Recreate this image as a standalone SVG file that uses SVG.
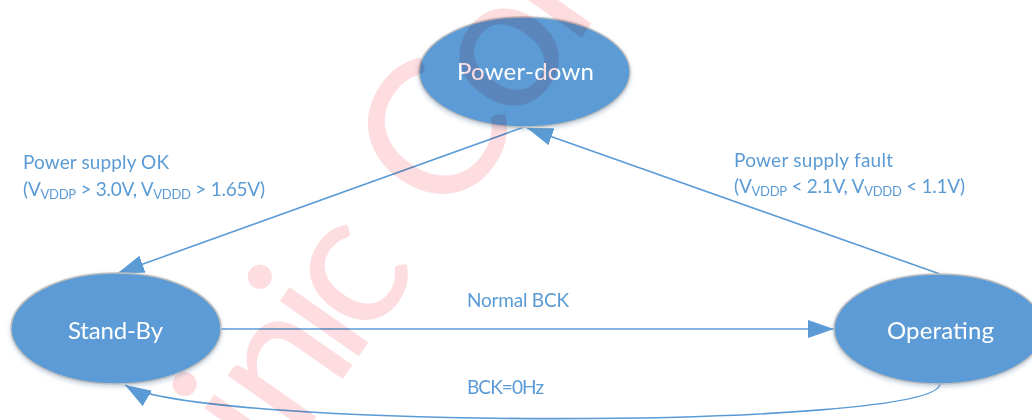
<svg xmlns="http://www.w3.org/2000/svg" width="1032" height="420" viewBox="0 0 1032 420">
<defs>
<style>
.node{fill:#5B9BD5;stroke:#BFBFBF;stroke-width:1.5;filter:url(#sh);}
.nlabel{font-family:Lato,"Open Sans",sans-serif;font-size:24px;fill:#FFFFFF;text-anchor:middle;}
.lbl{font-family:Lato,"Open Sans",sans-serif;font-size:19px;fill:#5B9BD5;}
.sub{font-size:13px;}
.conn{fill:none;stroke:#5B9BD5;stroke-width:1.6;}
.wm{font-family:Lato,"Open Sans",sans-serif;font-size:190px;fill:#FDDDE0;mix-blend-mode:multiply;}
</style>
<filter id="sh" x="-20%" y="-20%" width="140%" height="150%">
<feDropShadow dx="0" dy="2" stdDeviation="2" flood-color="#5B7FA8" flood-opacity="0.35"/>
</filter>
<marker id="arr" markerUnits="userSpaceOnUse" markerWidth="26" markerHeight="18" refX="26" refY="9" orient="auto">
<path d="M0,0 L26,9 L0,18 z" fill="#5B9BD5"/>
</marker>
</defs>
<rect width="1032" height="420" fill="#FFFFFF"/>
<g id="connectors">
<path class="conn" d="M524,127 L118,273" marker-end="url(#arr)"/>
<path class="conn" d="M940,274 L527,128" marker-end="url(#arr)"/>
<path class="conn" d="M221,329 L834,329" marker-end="url(#arr)"/>
<path class="conn" d="M940,384 C935,430 200,430 125,385" marker-end="url(#arr)"/>
</g>
<g id="node-powerdown">
<ellipse class="node" cx="524.5" cy="72" rx="105.5" ry="55"/>
<text class="nlabel" x="525.5" y="80" textLength="137">Power-down</text>
</g>
<g id="node-standby">
<ellipse class="node" cx="116" cy="328.5" rx="105" ry="55.5"/>
<text class="nlabel" x="115.5" y="339" textLength="95">Stand-By</text>
</g>
<g id="node-operating">
<ellipse class="node" cx="939" cy="329" rx="105" ry="55"/>
<text class="nlabel" x="940.5" y="339" textLength="107">Operating</text>
</g>
<g id="labels">
<text class="lbl" x="23" y="169" textLength="146">Power supply OK</text>
<text class="lbl" x="23" y="196" textLength="242">(V<tspan class="sub" dy="3">VDDP</tspan><tspan dy="-3"> &gt; 3.0V, V</tspan><tspan class="sub" dy="3">VDDD</tspan><tspan dy="-3"> &gt; 1.65V)</tspan></text>
<text class="lbl" x="734" y="166.5" textLength="159">Power supply fault</text>
<text class="lbl" x="734" y="193" textLength="231">(V<tspan class="sub" dy="3">VDDP</tspan><tspan dy="-3"> &lt; 2.1V, V</tspan><tspan class="sub" dy="3">VDDD</tspan><tspan dy="-3"> &lt; 1.1V)</tspan></text>
<text class="lbl" x="467" y="307" textLength="102">Normal BCK</text>
<text class="lbl" x="467" y="394" textLength="77">BCK=0Hz</text>
</g>
<g id="watermark">
<text class="wm" transform="translate(363,350) rotate(-55)" x="-153 -112 -22 9 100 152 270 368" y="0">inic Con</text>
</g>
</svg>
